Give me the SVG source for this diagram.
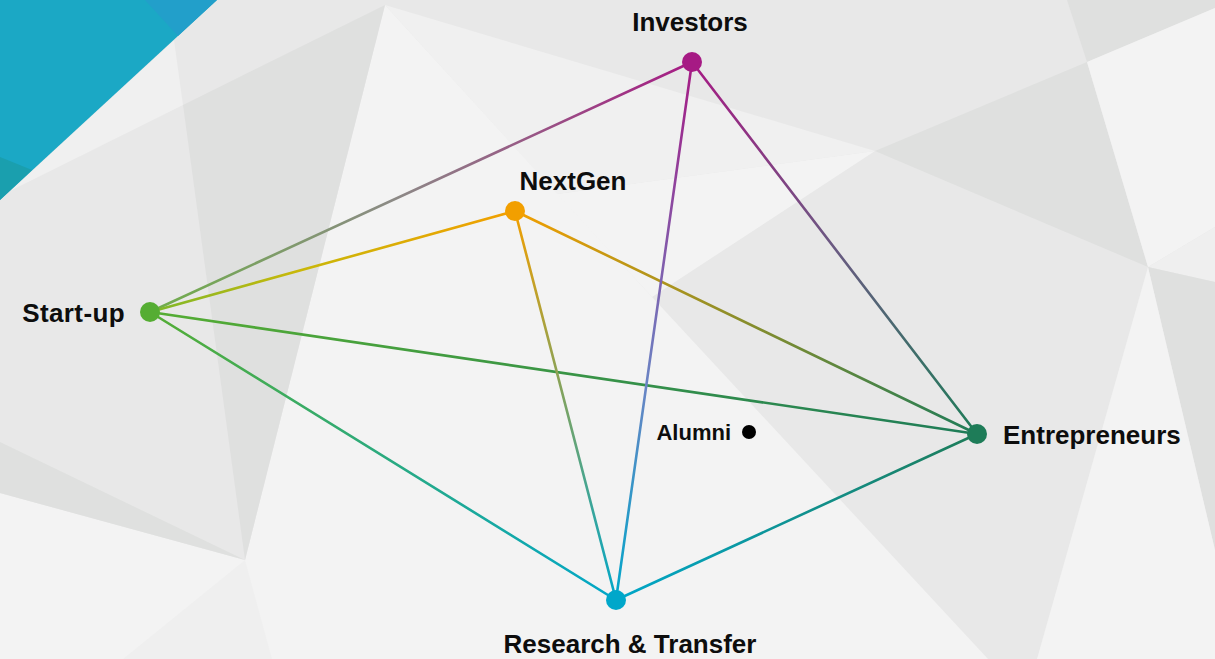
<svg xmlns="http://www.w3.org/2000/svg" width="1215" height="659" viewBox="0 0 1215 659">
<style>
.lbl{font-family:"Liberation Sans",Arial,sans-serif;font-weight:bold;font-size:26px;fill:#0d0d0d}
.sm{font-size:22px}
.ln{stroke-width:2.6;fill:none;stroke-linecap:round}
.d1{fill:#dfe0df}.l1{fill:#f3f3f3}.l2{fill:#f0f0f0}.l3{fill:#efefef}
</style>
<defs>
<linearGradient id="gSI" gradientUnits="userSpaceOnUse" x1="150" y1="312" x2="692" y2="62"><stop offset="0" stop-color="#6fae4a"/><stop offset="0.45" stop-color="#8c8a86"/><stop offset="1" stop-color="#a61a84"/></linearGradient>
<linearGradient id="gSN" gradientUnits="userSpaceOnUse" x1="150" y1="312" x2="515" y2="211"><stop offset="0" stop-color="#7cb82a"/><stop offset="0.4" stop-color="#c8b80a"/><stop offset="1" stop-color="#f29f00"/></linearGradient>
<linearGradient id="gSE" gradientUnits="userSpaceOnUse" x1="150" y1="312" x2="977" y2="434"><stop offset="0" stop-color="#55ad33"/><stop offset="1" stop-color="#1e7c58"/></linearGradient>
<linearGradient id="gSR" gradientUnits="userSpaceOnUse" x1="150" y1="312" x2="616" y2="600"><stop offset="0" stop-color="#55ad33"/><stop offset="1" stop-color="#00a7ca"/></linearGradient>
<linearGradient id="gNE" gradientUnits="userSpaceOnUse" x1="515" y1="211" x2="977" y2="434"><stop offset="0" stop-color="#f29f00"/><stop offset="1" stop-color="#1e7c58"/></linearGradient>
<linearGradient id="gNR" gradientUnits="userSpaceOnUse" x1="515" y1="211" x2="616" y2="600"><stop offset="0" stop-color="#f29f00"/><stop offset="1" stop-color="#00a7ca"/></linearGradient>
<linearGradient id="gIR" gradientUnits="userSpaceOnUse" x1="692" y1="62" x2="616" y2="600"><stop offset="0" stop-color="#a61a84"/><stop offset="0.6" stop-color="#6a84c4"/><stop offset="1" stop-color="#00a7ca"/></linearGradient>
<linearGradient id="gIE" gradientUnits="userSpaceOnUse" x1="692" y1="62" x2="977" y2="434"><stop offset="0" stop-color="#a61a84"/><stop offset="0.5" stop-color="#6a5a82"/><stop offset="1" stop-color="#1e7c58"/></linearGradient>
<linearGradient id="gRE" gradientUnits="userSpaceOnUse" x1="616" y1="600" x2="977" y2="434"><stop offset="0" stop-color="#00a7ca"/><stop offset="1" stop-color="#1e7c58"/></linearGradient>
</defs>
<g id="background">
<rect x="0" y="0" width="1215" height="659" fill="#e8e8e8"/>
<polygon class="l1" points="385,5 652,297 988,659 0,659 0,493 245,560"/>
<polygon class="l1" points="557,194 875,151 652,297"/>
<polygon class="l3" points="245,560 123,659 272,659"/>
<polygon class="l2" points="385,5 875,151 557,194"/>
<polygon class="l2" points="10,191 174,40 183,105"/>
<polygon class="d1" points="183,105 385,5 245,560"/>
<polygon class="d1" points="0,442 245,560 0,493"/>
<polygon class="d1" points="1087,62 875,151 1148,267"/>
<polygon class="d1" points="1067,0 1215,0 1215,8 1087,62"/>
<polygon class="l1" points="1087,62 1215,8 1215,227 1148,267"/>
<polygon class="l3" points="1148,267 1215,227 1215,282"/>
<polygon class="d1" points="1148,267 1215,282 1215,550"/>
<polygon class="l1" points="1148,267 1215,550 1215,659 1037,659"/>
<polygon fill="#1ba8c5" points="0,0 217,0 0,200"/>
<polygon fill="#229fca" points="145,0 217,0 178,36"/>
<polygon fill="#1a9fae" points="0,157 32,170 0,200"/>
</g>
<g id="connectors">
<line class="ln" stroke="url(#gSI)" x1="150" y1="312" x2="692" y2="62"/>
<line class="ln" stroke="url(#gSN)" x1="150" y1="312" x2="515" y2="211"/>
<line class="ln" stroke="url(#gSE)" x1="150" y1="312" x2="977" y2="434"/>
<line class="ln" stroke="url(#gSR)" x1="150" y1="312" x2="616" y2="600"/>
<line class="ln" stroke="url(#gNE)" x1="515" y1="211" x2="977" y2="434"/>
<line class="ln" stroke="url(#gNR)" x1="515" y1="211" x2="616" y2="600"/>
<line class="ln" stroke="url(#gIR)" x1="692" y1="62" x2="616" y2="600"/>
<line class="ln" stroke="url(#gIE)" x1="692" y1="62" x2="977" y2="434"/>
<line class="ln" stroke="url(#gRE)" x1="616" y1="600" x2="977" y2="434"/>
</g>
<g id="investors"><circle cx="692" cy="62" r="10" fill="#a61a84"/><text class="lbl" x="690" y="31" text-anchor="middle">Investors</text></g>
<g id="nextgen"><circle cx="515" cy="211" r="10" fill="#f29f00"/><text class="lbl" x="573" y="190" text-anchor="middle">NextGen</text></g>
<g id="startup"><circle cx="150" cy="312" r="10" fill="#55ad33"/><text class="lbl" x="125" y="322" text-anchor="end" letter-spacing="0.4">Start-up</text></g>
<g id="entrepreneurs"><circle cx="977" cy="434" r="10" fill="#1e7c58"/><text class="lbl" x="1003" y="444">Entrepreneurs</text></g>
<g id="research"><circle cx="616" cy="600" r="10" fill="#00a7ca"/><text class="lbl" x="630" y="653" text-anchor="middle">Research &amp; Transfer</text></g>
<g id="alumni"><circle cx="749" cy="432" r="7" fill="#000"/><text class="lbl sm" x="731" y="440" text-anchor="end">Alumni</text></g>
</svg>
